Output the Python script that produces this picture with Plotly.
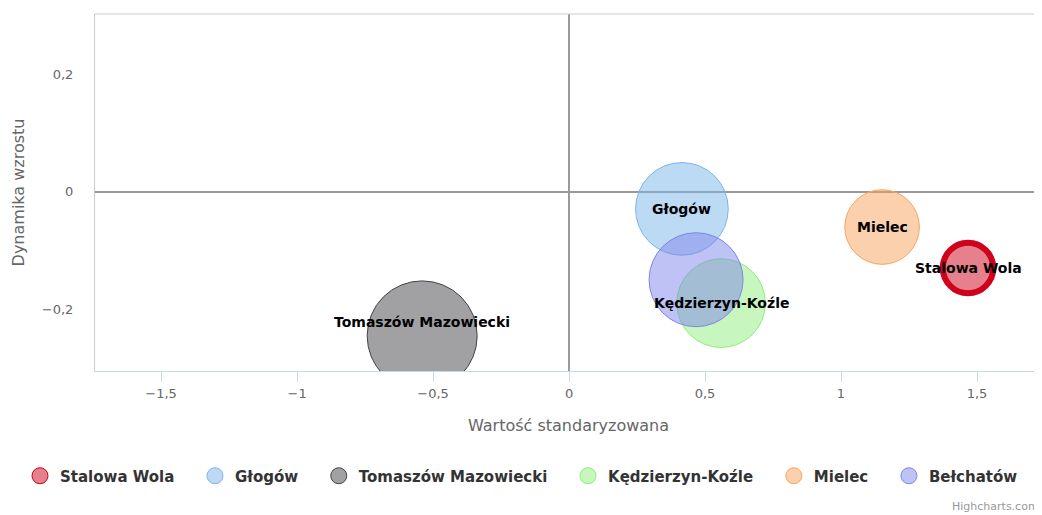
import plotly.graph_objects as go

# dane miast
miasta = ['Stalowa Wola', 'Głogów', 'Tomaszów Mazowiecki', 'Kędzierzyn-Koźle', 'Mielec', 'Bełchatów']
wartosc_std = [1.467, 0.415, -0.540, 0.559, 1.151, 0.467]
dynamika = [-0.130, -0.029, -0.246, -0.190, -0.060, -0.150]
wielkosc = [21, 71, 100, 65, 46, 73]
etykiety = ['Stalowa Wola', 'Głogów', 'Tomaszów Mazowiecki', 'Kędzierzyn-Koźle', 'Mielec', '']

x_ticks = [-1.5, -1, -0.5, 0, 0.5, 1, 1.5]
y_ticks = [-0.2, 0, 0.2]

colors = ['rgb(208,2,27)', 'rgb(124,181,236)', 'rgb(67,67,72)',
          'rgb(144,237,125)', 'rgb(247,163,92)', 'rgb(128,133,233)']

FONT = 'DejaVu Sans'
max_size = 110
sizeref = 2.0 * max(wielkosc) / max_size ** 2
PAD = '\u00a0' * 3  # odstęp między pozycjami legendy


def fill(c, a=0.5):
    return c.replace('rgb', 'rgba').replace(')', f',{a})')


fig = go.Figure()
for i in range(len(miasta)):
    fig.add_trace(go.Scatter(
        x=[wartosc_std[i]], y=[dynamika[i]], name=miasta[i] + PAD, mode='markers',
        marker=dict(size=[wielkosc[i]], sizemode='area', sizeref=sizeref, opacity=1,
                    color=fill(colors[i]), line=dict(color=colors[i], width=1)),
        hoverinfo='name'))

# wyróżnione miasto (gruba obwódka)
fig.add_trace(go.Scatter(
    x=[wartosc_std[0]], y=[dynamika[0]], mode='markers', showlegend=False,
    marker=dict(size=[wielkosc[0]], sizemode='area', sizeref=sizeref, opacity=1,
                color='rgba(0,0,0,0)', line=dict(color=colors[0], width=6)),
    hoverinfo='skip'))

# etykiety nad wszystkimi bąblami
for i in range(len(miasta)):
    if not etykiety[i]:
        continue
    fig.add_annotation(x=wartosc_std[i], y=dynamika[i], text=etykiety[i],
                       showarrow=False, yshift=14 if i == 2 else 0,
                       font=dict(family=FONT, size=14, color='#000000', weight='bold'))

fig.add_annotation(text='Highcharts.com', xref='paper', yref='paper', x=1, y=0,
                   xanchor='right', yanchor='bottom', xshift=-1, yshift=-144,
                   showarrow=False, font=dict(family=FONT, size=11, color='#999999'))

# ramka wykresu (góra)
fig.add_shape(type='line', xref='paper', yref='paper', x0=0, x1=1, y0=1, y1=1,
              line=dict(color='#cccccc', width=1))

fig.update_layout(
    width=1042, height=515,
    margin=dict(l=87, r=8, t=6, b=152),
    paper_bgcolor='white', plot_bgcolor='white',
    separators=', ',
    font=dict(family=FONT, color='#666666'),
    xaxis=dict(range=[-1.743, 1.739], tickvals=x_ticks, showgrid=False,
               zeroline=True, zerolinecolor='#999999', zerolinewidth=2,
               showline=True, linecolor='#ccd6eb', linewidth=1,
               ticks='outside', ticklen=10, tickcolor='#ccd6eb',
               tickfont=dict(size=13, color='#666666'),
               title=dict(text='Wartość standaryzowana', standoff=20,
                          font=dict(size=16, color='#666666'))),
    yaxis=dict(range=[-0.306, 0.304], tickvals=y_ticks, showgrid=False,
               zeroline=True, zerolinecolor='#999999', zerolinewidth=2,
               showline=True, linecolor='#cccccc', linewidth=1,
               ticks='', ticklabelstandoff=18,
               tickfont=dict(size=13, color='#666666'),
               title=dict(text='Dynamika wzrostu', standoff=13,
                          font=dict(size=16, color='#666666'))),
    legend=dict(orientation='h', xref='paper', yref='paper',
                x=-0.0792, xanchor='left', y=-0.2479, yanchor='top',
                font=dict(family=FONT, size=15, color='#333333', weight='bold')),
)

fig.write_html('out.html')
